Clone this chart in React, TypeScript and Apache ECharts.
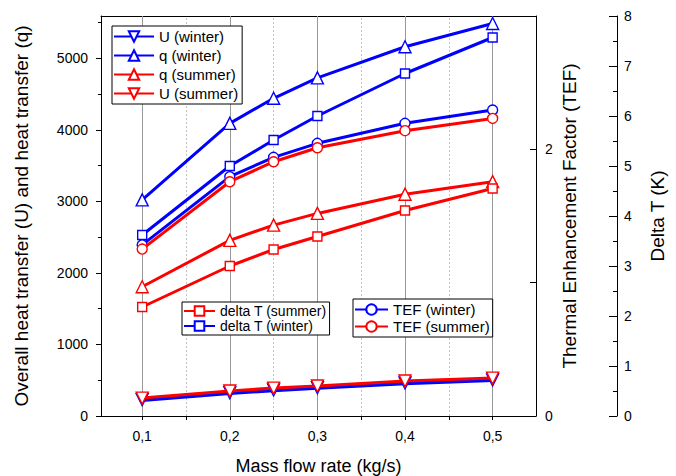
import React, { useEffect, useRef } from "react";
import * as echarts from "echarts";

// ---- data ----
const massFlow = [0.1, 0.2, 0.25, 0.3, 0.4, 0.5];
const uWinter = [228, 325, 365, 397, 462, 505];
const uSummer = [250, 350, 390, 420, 490, 530];
const qWinter = [3020, 4090, 4440, 4725, 5160, 5485];
const qSummer = [1806, 2455, 2668, 2831, 3100, 3275];
const dtWinter = [3.62, 5.0, 5.52, 6.0, 6.85, 7.57];
const dtSummer = [2.18, 3.0, 3.33, 3.59, 4.11, 4.55];
const tefWinter = [1.283, 1.795, 1.94, 2.045, 2.195, 2.295];
const tefSummer = [1.252, 1.757, 1.907, 2.012, 2.14, 2.232];

const xMajorTicks = [0.1, 0.2, 0.3, 0.4, 0.5];
const xMinorTicks = [0.15, 0.25, 0.35, 0.45];
const leftMajorTicks = [0, 1000, 2000, 3000, 4000, 5000];
const leftMinorTicks = [500, 1500, 2500, 3500, 4500, 5500];
const tefLabelTicks = [0, 2];

const legendTop = ["U (winter)", "q (winter)", "q (summer)", "U (summer)"];
const legendDelta = ["delta T (summer)", "delta T (winter)"];
const legendTef = ["TEF (winter)", "TEF (summer)"];

const BLUE = "#0000ff";
const RED = "#ff0000";
const FONT = "'Liberation Sans', Arial, sans-serif";

function mk(
  name: string,
  vals: number[],
  color: string,
  yAxisIndex: number,
  symbol: string,
  rotate: number,
  width: number,
  size: number,
  z: number
): any {
  return {
    type: "line",
    name,
    xAxisIndex: 0,
    yAxisIndex,
    data: massFlow.map((x, i) => [x, vals[i]]),
    symbol,
    symbolRotate: rotate,
    symbolSize: size,
    showSymbol: true,
    z,
    lineStyle: { color, width },
    itemStyle: { color: "#ffffff", borderColor: color, borderWidth: 1.4 },
    emphasis: { disabled: true },
  };
}

export default function App() {
  const ref = useRef<HTMLDivElement>(null);
  useEffect(() => {
    if (!ref.current) return;
    const chart = echarts.init(ref.current, undefined, { renderer: "svg" });
    const xMin = 0.053;
    const xMax = 0.5495;
    const black = { color: "#000", width: 1 };

    const gridLines = [
      ...xMajorTicks.map((v) => ({
        xAxis: v,
        lineStyle: { color: "#999999", type: "solid", width: 1 },
      })),
      ...xMinorTicks.map((v) => ({
        xAxis: v,
        lineStyle: { color: "#c4c4c4", type: [2, 2], width: 1 },
      })),
    ];

    const sU = mk("U (winter)", uWinter, BLUE, 0, "triangle", 180, 4.5, 12, 3);
    sU.markLine = {
      silent: true,
      symbol: ["none", "none"],
      z: 1,
      label: { show: false },
      emphasis: { disabled: true },
      data: gridLines,
    };

    const series = [
      sU,
      mk("q (winter)", qWinter, BLUE, 0, "triangle", 0, 3, 12, 3),
      mk("delta T (winter)", dtWinter, BLUE, 2, "rect", 0, 3, 9, 3),
      mk("TEF (winter)", tefWinter, BLUE, 1, "circle", 0, 3, 10, 3),
      mk("q (summer)", qSummer, RED, 0, "triangle", 0, 3, 12, 4),
      mk("U (summer)", uSummer, RED, 0, "triangle", 180, 3, 12, 4),
      mk("delta T (summer)", dtSummer, RED, 2, "rect", 0, 3, 9, 4),
      mk("TEF (summer)", tefSummer, RED, 1, "circle", 0, 3, 10, 4),
    ];

    const titleStyle = { fontSize: 19, color: "#000", fontFamily: FONT };

    const option: any = {
      animation: false,
      backgroundColor: "#ffffff",
      textStyle: { fontFamily: FONT, color: "#000" },
      grid: {
        left: 101,
        right: 140,
        top: 16,
        bottom: 60,
        show: false,
        containLabel: false,
        outerBoundsMode: "none",
      },
      legend: [
        {
          data: legendTop,
          orient: "vertical",
          left: 112,
          top: 26,
          itemWidth: 40,
          itemHeight: 13,
          itemGap: 4,
          padding: [3, 4, 3, 1],
          borderColor: "#000",
          borderWidth: 1,
          backgroundColor: "#fff",
          selectedMode: false,
          textStyle: { fontSize: 15, color: "#000", fontFamily: FONT },
        },
        {
          data: legendDelta,
          orient: "vertical",
          left: 182,
          top: 302,
          itemWidth: 31,
          itemHeight: 12,
          itemGap: 1,
          padding: [2, 3, 2, 1],
          borderColor: "#000",
          borderWidth: 1,
          backgroundColor: "#fff",
          selectedMode: false,
          textStyle: { fontSize: 14, color: "#000", fontFamily: FONT },
        },
        {
          data: legendTef,
          orient: "vertical",
          left: 353,
          top: 299,
          itemWidth: 33,
          itemHeight: 13,
          itemGap: 2,
          padding: [3, 3, 3, 1],
          borderColor: "#000",
          borderWidth: 1,
          backgroundColor: "#fff",
          selectedMode: false,
          textStyle: { fontSize: 15, color: "#000", fontFamily: FONT },
        },
      ],
      xAxis: [
        {
          type: "value",
          position: "bottom",
          min: xMin,
          max: xMax,
          axisLine: { show: true, onZero: false, lineStyle: black },
          axisTick: {
            show: true,
            customValues: [...xMajorTicks, ...xMinorTicks].sort((a, b) => a - b),
            length: 4,
            lineStyle: black,
          },
          axisLabel: {
            customValues: xMajorTicks,
            formatter: (v: number) => v.toFixed(1).replace(".", ","),
            fontSize: 14,
            color: "#000",
            margin: 13,
            fontFamily: FONT,
          },
          splitLine: { show: false },
          name: "Mass flow rate (kg/s)",
          nameLocation: "middle",
          nameGap: 41,
          nameMoveOverlap: false,
          nameTextStyle: { fontSize: 18, color: "#000", fontFamily: FONT },
        },
        {
          type: "value",
          position: "top",
          min: xMin,
          max: xMax,
          axisLine: { show: true, onZero: false, lineStyle: black },
          axisTick: { show: false },
          axisLabel: { show: false },
          splitLine: { show: false },
        },
      ],
      yAxis: [
        {
          type: "value",
          position: "left",
          min: 0,
          max: 5590,
          axisLine: { show: true, onZero: false, lineStyle: black },
          axisTick: { show: true, customValues: leftMajorTicks, length: 5, lineStyle: black },
          axisLabel: {
            customValues: leftMajorTicks,
            formatter: (v: number) => String(Math.round(v)),
            fontSize: 14,
            color: "#000",
            margin: 13,
            fontFamily: FONT,
          },
          splitLine: { show: false },
          name: "Overall heat transfer (U) and heat transfer (q)",
          nameLocation: "middle",
          nameGap: 70,
          nameMoveOverlap: false,
          nameTextStyle: titleStyle,
        },
        {
          type: "value",
          position: "right",
          min: 0,
          max: 3,
          interval: 1,
          axisLine: { show: true, onZero: false, lineStyle: black },
          axisTick: { show: true, inside: true, length: 6, lineStyle: black },
          axisLabel: {
            customValues: tefLabelTicks,
            formatter: (v: number) => String(Math.round(v)),
            fontSize: 14,
            color: "#000",
            margin: 9,
            fontFamily: FONT,
          },
          splitLine: { show: false },
          name: "Thermal Enhancement Factor (TEF)",
          nameLocation: "middle",
          nameGap: 24,
          nameMoveOverlap: false,
          nameTextStyle: titleStyle,
        },
        {
          type: "value",
          position: "right",
          offset: 81,
          min: 0,
          max: 8,
          interval: 1,
          axisLine: { show: true, onZero: false, lineStyle: black },
          axisTick: { show: true, inside: true, length: 8, lineStyle: black },
          minorTick: { show: true, splitNumber: 2, length: 4, lineStyle: black },
          axisLabel: {
            formatter: (v: number) => String(Math.round(v)),
            fontSize: 14,
            color: "#000",
            margin: 7,
            fontFamily: FONT,
          },
          splitLine: { show: false },
          minorSplitLine: { show: false },
          name: "Delta T (K)",
          nameLocation: "middle",
          nameGap: 31,
          nameMoveOverlap: false,
          nameTextStyle: titleStyle,
        },
        {
          type: "value",
          position: "left",
          min: 0,
          max: 5590,
          axisLine: { show: false, onZero: false },
          axisTick: { show: true, customValues: leftMinorTicks, length: 3, lineStyle: black },
          axisLabel: { show: false },
          splitLine: { show: false },
        },
      ],
      series,
    };
    chart.setOption(option);
    return () => {
      chart.dispose();
    };
  }, []);

  return (
    <div
      ref={ref}
      style={{ position: "fixed", left: 0, top: 0, width: 676, height: 476, background: "#fff" }}
    />
  );
}
